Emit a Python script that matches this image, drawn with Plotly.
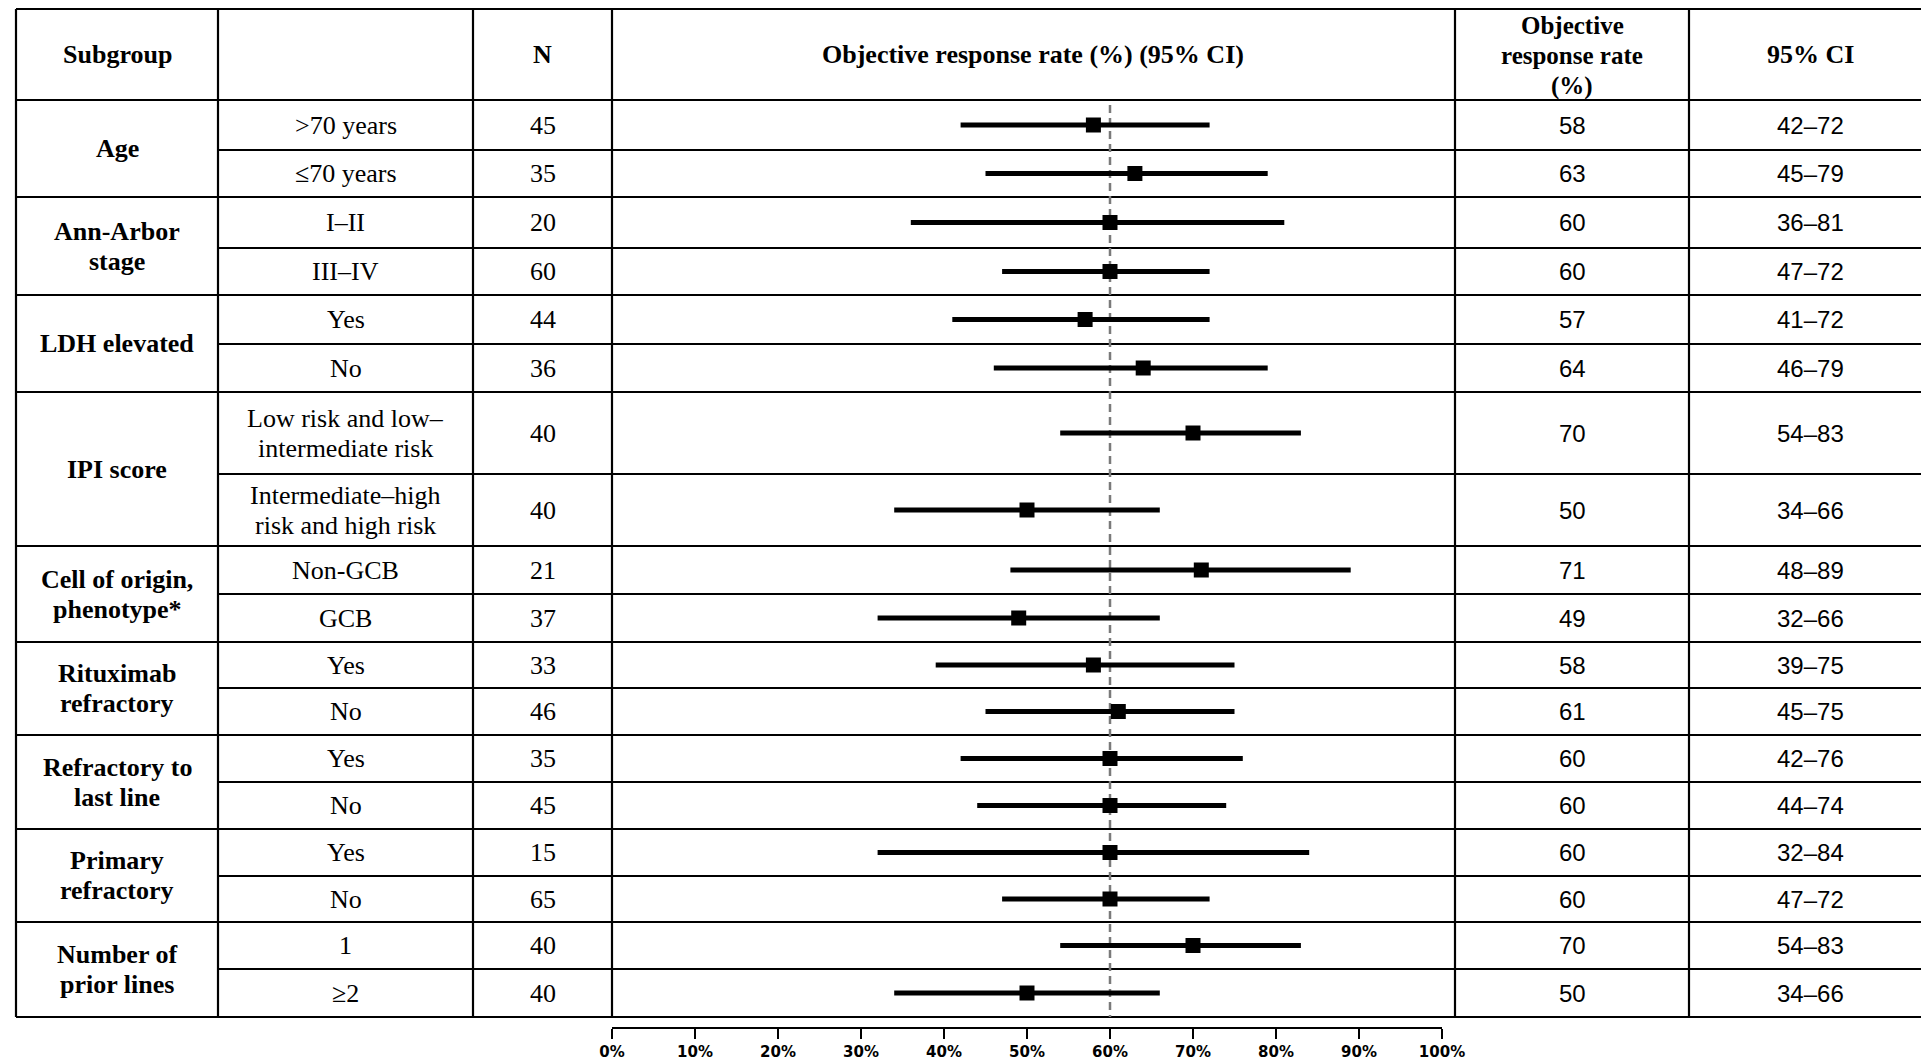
import plotly.graph_objects as go

# ---------------- data ----------------
group_labels = [["Age"], ["Ann-Arbor", "stage"], ["LDH elevated"], ["IPI score"],
                ["Cell of origin,", "phenotype*"], ["Rituximab", "refractory"],
                ["Refractory to", "last line"], ["Primary", "refractory"],
                ["Number of", "prior lines"]]
group_sizes = [2, 2, 2, 2, 2, 2, 2, 2, 2]
subgroup_labels = [[">70 years"], ["≤70 years"], ["I–II"], ["III–IV"], ["Yes"], ["No"],
                   ["Low risk and low–", "intermediate risk"],
                   ["Intermediate–high", "risk and high risk"],
                   ["Non-GCB"], ["GCB"], ["Yes"], ["No"], ["Yes"], ["No"],
                   ["Yes"], ["No"], ["1"], ["≥2"]]
n_patients = [45, 35, 20, 60, 44, 36, 40, 40, 21, 37, 33, 46, 35, 45, 15, 65, 40, 40]
orr = [58, 63, 60, 60, 57, 64, 70, 50, 71, 49, 58, 61, 60, 60, 60, 60, 70, 50]
ci_low = [42, 45, 36, 47, 41, 46, 54, 34, 48, 32, 39, 45, 42, 44, 32, 47, 54, 34]
ci_high = [72, 79, 81, 72, 72, 79, 83, 66, 89, 66, 75, 75, 76, 74, 84, 72, 83, 66]
reference_rate = 60
x_ticks = [0, 10, 20, 30, 40, 50, 60, 70, 80, 90, 100]
x_tick_labels = ["0%", "10%", "20%", "30%", "40%", "50%", "60%", "70%", "80%", "90%", "100%"]
header_subgroup = ["Subgroup"]
header_n = ["N"]
header_plot = ["Objective response rate (%) (95% CI)"]
header_orr = ["Objective", "response rate", "(%)"]
header_ci = ["95% CI"]

# ---------------- layout constants ----------------
W, H = 1921, 1060
TABLE_TOP = 9
HEADER_BOTTOM = 100
ROW_HEIGHTS = [50, 47, 51, 47, 49, 48, 82, 72, 48, 48, 46, 47, 47, 47, 47, 46, 47, 48]
COL_X = [16, 218, 473, 612, 1455, 1689]
COL_CENTER = {"group": 117, "sub": 345.5, "n": 542.5, "plot": 1033, "orr": 1572, "ci": 1810}
AXIS_Y = 1027
X0_PX, X100_PX = 612, 1442
LINE_SP = 30
SERIF = "Liberation Serif"
SANS = "Liberation Sans"
LW = 2.2

# row boundaries
bounds = [HEADER_BOTTOM]
for h in ROW_HEIGHTS:
    bounds.append(bounds[-1] + h)
row_centers = [(bounds[i] + bounds[i + 1]) / 2 for i in range(len(ROW_HEIGHTS))]
TABLE_BOTTOM = bounds[-1]

fig = go.Figure()

fig.add_trace(go.Scatter(
    x=orr, y=row_centers, mode="markers",
    marker=dict(symbol="square", size=15, color="black", line=dict(width=0)),
    error_x=dict(type="data", symmetric=False,
                 array=[h - o for h, o in zip(ci_high, orr)],
                 arrayminus=[o - l for o, l in zip(orr, ci_low)],
                 thickness=5, width=0, color="black"),
    hoverinfo="skip", showlegend=False,
))

shapes = []


def hline(y, x0px, x1px=W):
    shapes.append(dict(type="line", xref="paper", yref="y", x0=x0px / W, x1=x1px / W,
                       y0=y, y1=y, line=dict(color="black", width=LW), layer="below"))


def vline(xpx, y0, y1):
    shapes.append(dict(type="line", xref="paper", yref="y", x0=xpx / W, x1=xpx / W,
                       y0=y0, y1=y1, line=dict(color="black", width=LW), layer="below"))


# horizontal lines
hline(TABLE_TOP, COL_X[0])
hline(HEADER_BOTTOM, COL_X[0])
idx = 0
for gs in group_sizes:
    for k in range(gs):
        idx += 1
        if k < gs - 1:
            hline(bounds[idx], COL_X[1])
        else:
            hline(bounds[idx], COL_X[0])
# vertical lines
for cx in COL_X:
    vline(cx, TABLE_TOP, TABLE_BOTTOM)

# reference dashed line
shapes.append(dict(type="line", xref="x", yref="y", x0=reference_rate, x1=reference_rate,
                   y0=HEADER_BOTTOM + 5, y1=TABLE_BOTTOM,
                   line=dict(color="#7a7a7a", width=2.5, dash="8px,5px"), layer="below"))

annotations = []


def add_text(xpx, yc, lines, family, size, bold=False):
    k = len(lines)
    for i, t in enumerate(lines):
        y = yc + (i - (k - 1) / 2) * LINE_SP
        annotations.append(dict(
            x=xpx / W, y=y, xref="paper", yref="y", text=t, showarrow=False,
            xanchor="center", yanchor="middle",
            font=dict(family=family, size=size, color="black",
                      weight="bold" if bold else "normal")))


hc = (TABLE_TOP + HEADER_BOTTOM) / 2
add_text(COL_CENTER["group"], hc, header_subgroup, SERIF, 26, True)
add_text(COL_CENTER["n"], hc, header_n, SERIF, 26, True)
add_text(COL_CENTER["plot"], hc, header_plot, SERIF, 26, True)
add_text(COL_CENTER["orr"], hc + 1, header_orr, SERIF, 25, True)
add_text(COL_CENTER["ci"], hc, header_ci, SERIF, 26, True)

idx = 0
for lab, gs in zip(group_labels, group_sizes):
    gc = (bounds[idx] + bounds[idx + gs]) / 2
    add_text(COL_CENTER["group"], gc, lab, SERIF, 26, True)
    idx += gs

for i in range(len(n_patients)):
    yc = row_centers[i]
    add_text(COL_CENTER["sub"], yc, subgroup_labels[i], SERIF, 26)
    add_text(COL_CENTER["n"], yc, [str(n_patients[i])], SERIF, 26)
    add_text(COL_CENTER["orr"], yc, [str(orr[i])], SANS, 24)
    add_text(COL_CENTER["ci"], yc, [f"{ci_low[i]}–{ci_high[i]}"], SANS, 24)

fig.update_layout(
    width=W, height=H, margin=dict(l=0, r=0, t=0, b=0, pad=0, autoexpand=False),
    paper_bgcolor="white", plot_bgcolor="rgba(0,0,0,0)",
    shapes=shapes, annotations=annotations, showlegend=False,
    xaxis=dict(domain=[X0_PX / W, X100_PX / W], range=[0, 100], tickvals=x_ticks,
               ticktext=x_tick_labels, showline=True, linecolor="black", linewidth=2,
               ticks="outside", ticklen=10, tickwidth=2, tickcolor="black",
               tickfont=dict(family="DejaVu Sans", size=15, color="black", weight="bold"),
               showgrid=False, zeroline=False, fixedrange=True, automargin=False),
    yaxis=dict(domain=[(H - AXIS_Y) / H, 1], range=[AXIS_Y, 0], visible=False,
               showgrid=False, zeroline=False, fixedrange=True, automargin=False),
)

fig.write_html(
    "out.html",
    config={"displayModeBar": False},
    post_script="document.body.style.margin='0';document.body.style.padding='0';"
                "document.body.style.overflow='hidden';"
                "document.documentElement.style.overflow='hidden';",
)
